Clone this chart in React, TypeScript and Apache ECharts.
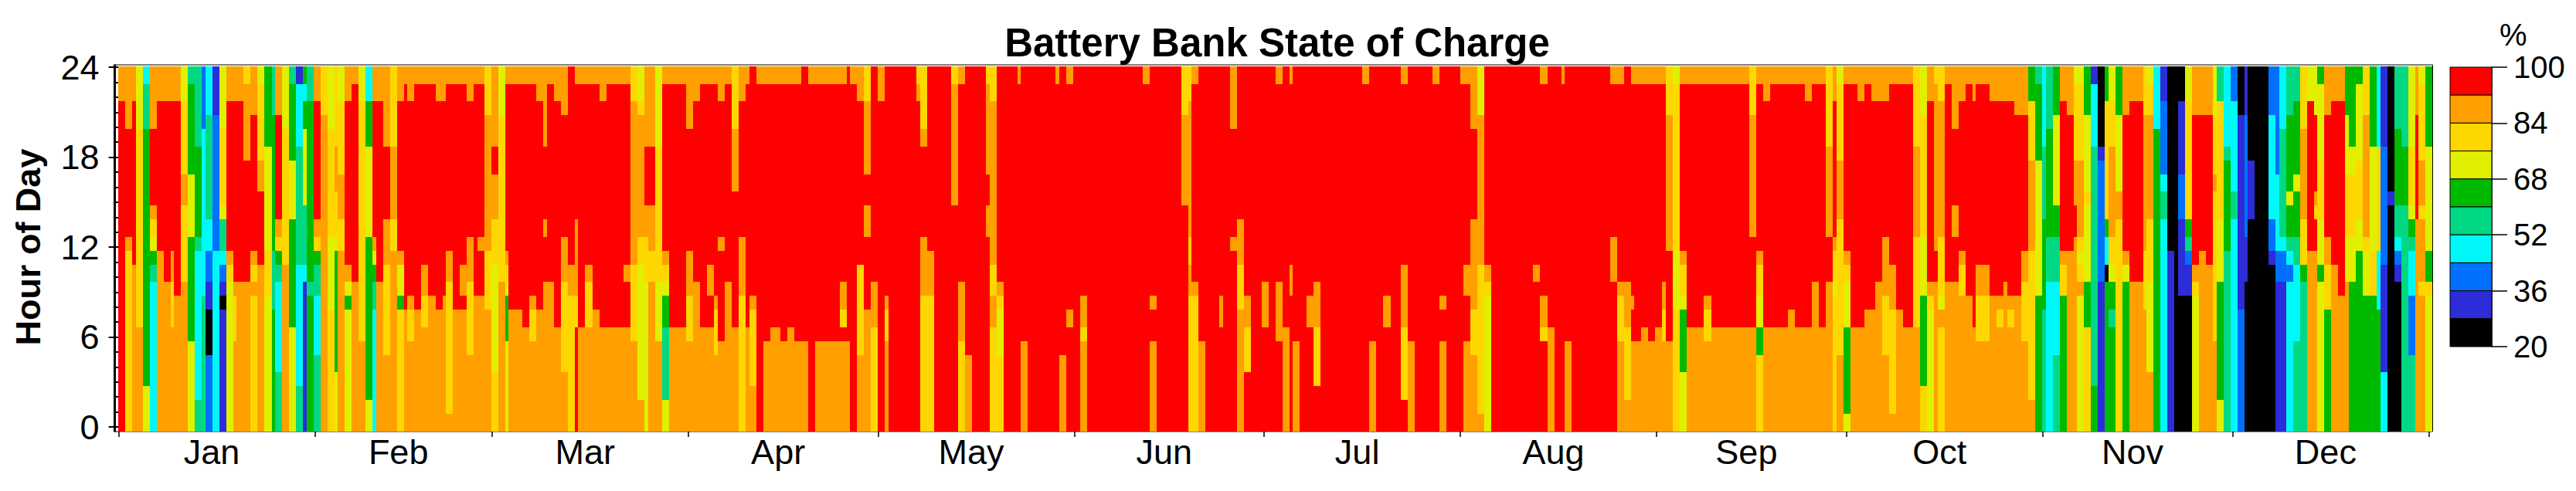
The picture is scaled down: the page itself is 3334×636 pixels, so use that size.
import React, { useEffect, useRef } from "react";
import * as echarts from "echarts";

// Each string is one day, read from the top row (hour 23) down: band letter + number of hours.
// "*n" repeats the same day n times.
const janDays = ["O2R22","O4R7O1G12","O2R11O11","Y4G13O7","C1T3N17Y3","O4R5O1G1Y1N1T1C10","O2R10O12","O2R12O10","O2R10O2G3O7","O2R13O9","Y2G5O2G5O10","T1N6Y4N7Y6","T5N6T1C10T2","B4C11T9","C3T7C2B2I2K3B5","I3B9C12","Y4G5Y1T2C1B1I1K1I8","O2R10O1G1Y10","O2R12O1G3O6","O2R12O10","G1O5R8O10","O3R9O1G1O1G9","Y1G5O2R5O11","N5Y7G3Y9","T3N9T4N8","O3R7O1G1N1T1C6T4","Y4G9O11","T1N5Y4N7Y7","I1C4T8C8T3","N1C1N2Y5T4C1I10","T2N12T1N9"];
const febDays = ["O2R8O1G1N1T2C4T5","G3O21","Y4G7Y5G8","G5O3G3Y1N8Y4","Y2G5O3G2O12","O2R11O1Y1N1Y8","O1R13O10","Y2G16O6","C2N3Y6N11Y2","O2R9O1Y1N1T2C8","O2R12O10","O5R5O3G6O5","G5O5G2O12","O2R10O1Y2N1G8","O1R15O8","O2R13O1G2O6","O1R15O8","O1R12O2G2O7","O1R14O9","O2R14O8","O2R13O9","O1R11O2G9O1","O1R15O8","O1R12O2R1O8","O2R9O3G5O5","O1R14O9","O1R10O1R3O9","G3O9G4O8"];
const marDays = ["O5R2O3G3Y7G4","Y3G11O10","O1R11O1G1Y1N3Y6","O1R15O8*2","O1R16O7","O1R14O1G2O6","O2R14O8","O5R5O1R3O10","O1R13O10","O2R15O7","O3R8O3G6O4","R13O2G9","O1R9O5G2R7","O1R16O7","O1R12O1G3O7","O1R15O8","O2R15O7","O1R16O7*3","O1R12O1R3O7","G2O11G5O6","Y2G1O8G2Y9O2","O5R4O2G3Y10","O5R4O3G2O10","Y5G9Y4O6","O1R11O1G1Y1N2T5Y2","O1R16O7*3"];
const aprDays = ["O4R8O3G3O6","O2R12O10","O1R16O7","O1R12O2R2O7","O1R14O1G3O5","O2R9O1R6O6","O1R13O10","G4O4R9O7","O2R9O4G9","O1R16O7","R15O1G5O3","O1R23","O1R17O6","O1R16O7*2","O1R17O6","O1R16O7","O1R17O6","R18O6","O1R23","O1R17O6*4","O1R13O2G1R1O6","R18O6","O1R23","O2R11G6O5","G2O5R2O2R5O8","R14O3G7"];
const mayDays = ["O2R22","R15O1G2O6","R24*4","G1O1R22","G4O1R6O4G9","R12O3G9","R24*3","G1O8R15","O1R13O4G6","R19O5","R24*2","G1O6R2O2R13","G2O11G2O2G7","R14O1G1Y3G5","R24*2","O1R23","R18O6","R24*4","O1R23","R19O5","O1R15O1R7"];
const junDays = ["R24","R15O2G1O6","R24*9","O1R23","R15O1R2O6","R24*4","G3O6R15","G2O9G2O2G9","O1R13O1G9","R18O6","R24*2","R15O2R7","R24","O4R7O1R12","R10O3G3O8","R15O2G3R4","R24*2"];
const julDays = ["R14O3R7","R24","O1R13O4R6","R17O7","O1R12O2R9","R18O6","R24","R15O2R7","R14O3G4R3","R24*7","O1R23","R18O6","R24","R15O2R7","R24*2","O1R12O4G5R2","R18O6","R24*3","O1R23","R15O1R2O6","R24*2"];
const augDays = ["O1R23","O1R12O2R3O6","O4R6O6G3O5","Y3O10G10O1","R13O1G1Y9","R24*7","R13O1R10","O1R14O2G1R6","R17O7","R24","O1R23","R18O6","R24*6","O1R10O3R10","O1R13O1G3O6","R14O3G5O2","O1R14O1R2O6","O1R17O6","O1R16O7","O1R17O6"];
const sepDays = ["O1R16O7","O1R13O2G2O6","G3O9R6O6","Y1G11Y4G8","O1R11O1G2Y1N4Y4","O1R16O7*3","O1R14O1G2O6","O1R16O7*6","G3O8R6O7","O1R11O1G2Y2N2G5","O2R15O7","O1R16O7*3","O1R15O8","O1R16O7*2","O2R15O7","O1R13O10","O1R16O7","G5O6R3O10","O2R9O1G2Y1G9","Y1G5O4G9O5"];
const octDays = ["O1R11O1G1Y3N6Y1","O1R16O7","O2R15O7","O1R15O8","O2R14O8","O2R12O10","O2R9O4G4O5","O1R12O3G7O1","O1R15O8","O1R16O7*2","G5O6G6O7","Y3G8Y4N6G3","O2R12O1G1Y8","G1O11R2O10","G2O9G4Y1O1G7","O1R13O10","O4R5O2R3O10","O2R10O1G2O9","O1R14O9","O2R15O7","O1R12O2G3O6*2","O2R13O9","O2R13O1G1O7","O2R12O10","O2R13O1G1O7","O3R12O9","O3R9O2G4O6","N2G4O6G10O2","T1N5Y9N9"];
const novDays = ["C5T5N6T8","T4N7T3C10","N3Y6N2T3C5T5","O2R10O1G2N9","O3R9O12","Y1G5O3R2O13","Y1G5O5G1Y1G1O1Y9","N3Y5G1Y5N3G7","I1C4T16N3","K5I1B8I10","N2G8N1C2K1N10","Y2G3O6G2Y1N2T1N7","N3Y5O2G14","O3R9O1Y1N10","O2R12O10*2","G3O9G4O8","Y1G2O7G4Y6O4","C4N20","I2B5C1T2C14","K12I12","K24","K2I5B3I5K9","Y2G8N1T1B1I2K9","O3R10O1G1Y9","O3R9O12","O3R10O11","Y3G4O1G10O6","T2G8Y4N8Y2","C5T1N6T12"];
const decDays = ["B2C6T2C14","K3I13B8","I3B8I3K10","K6I4K14","K24*2","B3C7B2I1K11","B7C5B2I10","C4T7C1B2I10","T3N5Y1N2T1C1B1C10","T2N5Y1N3T2C5T6","G4O6G3N1T10","Y2R10O12","Y3R5O1G1R2O12","N1Y5G4Y3N1Y10","O3R8O2G3N8","O2R11O11","O2R13O9","N3Y4G4Y3O10","N5Y2G4Y3N10","N1Y5G4Y2N12","G3O8G1Y3N9","N5Y7G3N9","C5G7C4N8","I5B8I7C4","K8I1K15","T4N5T2C1B1I1K10","T5N4T15","Y5G4Y1N1T1C3B4T5","O3R7O14","Y1G5O3G1O4G1O9","N5Y7N2G1Y9"];

const monthLabels = ["Jan","Feb","Mar","Apr","May","Jun","Jul","Aug","Sep","Oct","Nov","Dec"];
const monthStarts = [0,31,59,90,120,151,181,212,243,273,304,334,365];
const hourTicks = [0,6,12,18,24];

// State-of-charge bands, % at the middle of each band, and their colours.
const bandLetters = ["R","O","G","Y","N","T","C","B","I","K"];
const bandValues = [96,88,80,72,64,56,48,40,32,24];
const bandColors = ["#ff0000","#ffa000","#ffd700","#e0f000","#00ba00","#00d884","#00f8f8","#0070ff","#2c2cd8","#000000"];

// Source raster rows are 4 or 5 cells high, top to bottom.
const rowCells = [5,5,4,4,5,4,4,5,4,4,5,4,4,5,4,4,5,4,4,5,4,4,4,5];

const allDays = [janDays,febDays,marDays,aprDays,mayDays,junDays,julDays,augDays,sepDays,octDays,novDays,decDays];

function decode(): number[][] {
  const out: number[][] = [];
  let day = 0;
  const bad: string[] = [];
  allDays.forEach((list) => {
    list.forEach((code) => {
      const [body, rep] = code.split("*");
      const n = rep ? Number(rep) : 1;
      for (let k = 0; k < n; k++) {
        let row = 0;
        for (const m of body.matchAll(/([A-Z])(\d+)/g)) {
          const len = Number(m[2]);
          out.push([day, row, row + len, bandValues[bandLetters.indexOf(m[1])]]);
          row += len;
        }
        if (row !== 24) bad.push(code);
        day++;
      }
    });
  });
  if (bad.length || day !== 366) throw new Error("bad data " + day + " " + bad.join(","));
  return out;
}

const rowEdges = rowCells.reduce((acc: number[], c) => { acc.push(acc[acc.length - 1] + c); return acc; }, [0]);
const hourOfEdge = (r: number) => 24.04 - rowEdges[r] * 0.2317;
const dayOfEdge = (d: number) => -0.07 + Math.round((d * 664) / 366) * 0.5507;

const FONT = "Liberation Sans, Arial, sans-serif";

export default function App() {
  const ref = useRef<HTMLDivElement>(null);
  useEffect(() => {
    const chart = echarts.init(ref.current!, null, { renderer: "svg" });
    const runs = decode();
    const legendData = bandValues.map((v) => [v]);
    const colorOf = (v: number) => bandColors[bandValues.indexOf(v)];
    chart.setOption({
      animation: false,
      title: {
        text: "Battery Bank State of Charge",
        left: 1648,
        top: 25,
        textAlign: "center",
        textStyle: { fontFamily: FONT, fontSize: 51, fontWeight: "bold", color: "#000" },
      },
      grid: [
        { left: 153.6, top: 87.2, width: 2989.8, height: 465.8 },
        { left: 3171, top: 87, width: 54, height: 362 },
      ],
      xAxis: [
        {
          type: "value", min: 0, max: 365, gridIndex: 0, offset: 6,
          axisLine: { show: false },
          splitLine: { show: false },
          axisTick: { show: true, length: 13, customValues: monthStarts, lineStyle: { color: "#000", width: 1.5 } },
          axisLabel: {
            show: true, margin: 4, fontFamily: FONT, fontSize: 45, color: "#000",
            customValues: monthStarts.slice(0, 12).map((s, i) => (s + monthStarts[i + 1]) / 2 - 0.8),
            formatter: (v: number) => monthLabels[monthStarts.findIndex((s, i) => v >= s && v < monthStarts[i + 1])],
          },
        },
        { type: "value", min: 0, max: 1, gridIndex: 1, show: false },
      ],
      yAxis: [
        {
          type: "value", min: 0, max: 24, interval: 6, gridIndex: 0, offset: 5,
          name: "Hour of Day", nameLocation: "middle", nameGap: 90, nameRotate: 90,
          nameTextStyle: { fontFamily: FONT, fontSize: 45, fontWeight: "bold", color: "#000" },
          axisLine: { show: false },
          axisTick: { show: true, length: 13, lineStyle: { color: "#000", width: 2 } },
          minorTick: { show: true, splitNumber: 6, length: 5, lineStyle: { color: "#000", width: 2 } },
          splitLine: { show: false },
          minorSplitLine: { show: false },
          axisLabel: { margin: 20, fontFamily: FONT, fontSize: 45, color: "#000", customValues: hourTicks },
        },
        {
          type: "value", min: 20, max: 100, interval: 16, gridIndex: 1, position: "right",
          axisLine: { show: true, onZero: false, lineStyle: { color: "#000", width: 1.5 } },
          axisTick: { show: true, length: 20, lineStyle: { color: "#000", width: 1.5 } },
          splitLine: { show: false },
          axisLabel: { margin: 28, fontFamily: FONT, fontSize: 40, color: "#000" },
        },
      ],
      graphic: [
        {
          type: "rect", z: 0, silent: true,
          shape: { x: 148.5, y: 84, width: 3000, height: 475 },
          style: { fill: "none", stroke: "#000", lineWidth: 1 },
        },
        {
          type: "line", z: 10, silent: true,
          shape: { x1: 148.5, y1: 83.5, x2: 148.5, y2: 559.5 },
          style: { stroke: "#000", lineWidth: 3 },
        },
        {
          type: "text", x: 3235, y: 25, silent: true,
          style: { text: "%", fontFamily: FONT, fontSize: 40, fill: "#000" },
        },
      ],
      series: [
        {
          type: "custom",
          xAxisIndex: 0,
          yAxisIndex: 0,
          clip: false,
          encode: { x: 0, y: 1 },
          data: runs,
          renderItem: (_: any, api: any) => {
            const d = api.value(0), r0 = api.value(1), r1 = api.value(2);
            const p0 = api.coord([dayOfEdge(d), hourOfEdge(r0)]);
            const p1 = api.coord([dayOfEdge(d + 1), hourOfEdge(r1)]);
            const x0 = Math.round(p0[0]), x1 = Math.round(p1[0]);
            const y0 = Math.round(p0[1]), y1 = Math.round(p1[1]);
            return {
              type: "rect",
              shape: { x: x0, y: y0, width: x1 - x0, height: y1 - y0 },
              style: { fill: colorOf(api.value(3)) },
            };
          },
        },
        {
          type: "custom",
          xAxisIndex: 1,
          yAxisIndex: 1,
          encode: { y: 0 },
          data: legendData,
          renderItem: (_: any, api: any) => {
            const v = api.value(0);
            const p0 = api.coord([0, v + 4]);
            const p1 = api.coord([1, v - 4]);
            return {
              type: "rect",
              shape: { x: p0[0], y: p0[1], width: p1[0] - p0[0], height: p1[1] - p0[1] },
              style: { fill: colorOf(v), stroke: "#000", lineWidth: 1 },
            };
          },
        },
      ],
    });
    return () => chart.dispose();
  }, []);
  return <div ref={ref} style={{ position: "absolute", left: 0, top: 0, width: 3334, height: 636 }} />;
}
